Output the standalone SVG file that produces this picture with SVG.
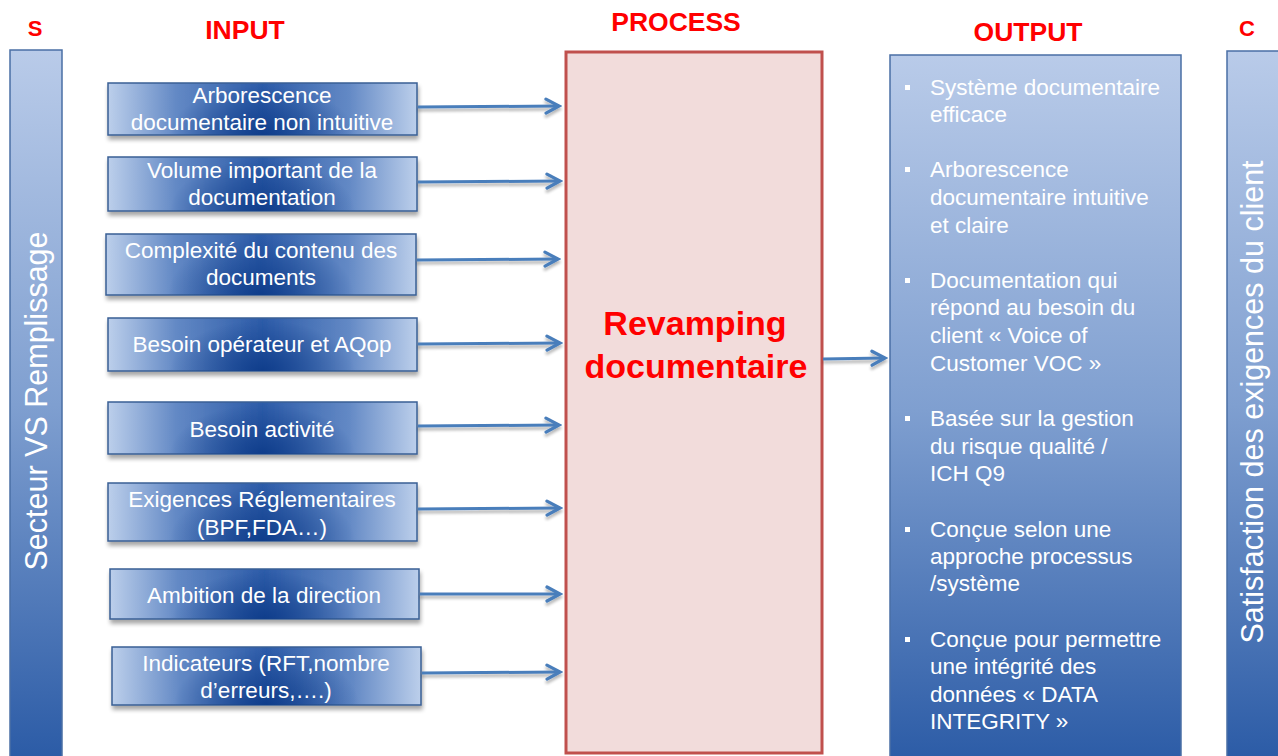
<svg xmlns="http://www.w3.org/2000/svg" width="1278" height="756" viewBox="0 0 1278 756">
<defs>
<linearGradient id="gv" x1="0" y1="0" x2="0" y2="1">
<stop offset="0" stop-color="#b9cbe9"/>
<stop offset="0.5" stop-color="#7f9fd0"/>
<stop offset="1" stop-color="#2b5ba6"/>
</linearGradient>
<linearGradient id="gh" x1="0" y1="0" x2="1" y2="0">
<stop offset="0" stop-color="#bccfeb"/>
<stop offset="0.22" stop-color="#6389c5"/>
<stop offset="0.5" stop-color="#2c5ba8"/>
<stop offset="0.78" stop-color="#6389c5"/>
<stop offset="1" stop-color="#bccfeb"/>
</linearGradient>
<radialGradient id="gd" cx="0.5" cy="1" r="0.3" gradientTransform="translate(0.5 1) scale(1 3.2) translate(-0.5 -1)">
<stop offset="0" stop-color="#0c3a88" stop-opacity="0.9"/>
<stop offset="1" stop-color="#0c3a88" stop-opacity="0"/>
</radialGradient>
<filter id="sh" x="-5%" y="-10%" width="110%" height="140%">
<feGaussianBlur in="SourceAlpha" stdDeviation="2"/>
<feOffset dx="1" dy="4" result="b"/>
<feComponentTransfer><feFuncA type="linear" slope="0.35"/></feComponentTransfer>
<feMerge><feMergeNode/><feMergeNode in="SourceGraphic"/></feMerge>
</filter>
<filter id="ash" x="-5%" y="-100%" width="110%" height="400%">
<feGaussianBlur in="SourceAlpha" stdDeviation="1.5"/>
<feOffset dx="0" dy="3"/>
<feComponentTransfer><feFuncA type="linear" slope="0.3"/></feComponentTransfer>
<feMerge><feMergeNode/><feMergeNode in="SourceGraphic"/></feMerge>
</filter>
<marker id="ah" viewBox="0 0 20 20" refX="17" refY="10" markerWidth="20" markerHeight="20" markerUnits="userSpaceOnUse" orient="auto">
<polyline points="4,3 17,10 4,17" fill="none" stroke="#4a7ebb" stroke-width="3.2" stroke-linejoin="miter" stroke-linecap="round"/>
</marker>
</defs>
<style>
.title{font-family:"Liberation Sans",Arial,sans-serif;font-weight:bold;fill:#ff0000;text-anchor:middle}
.box{fill:url(#gh);stroke:#3a5f95;stroke-width:1.5;filter:url(#sh)}
.dk{fill:url(#gd);stroke:none}
.bt{font-family:"Liberation Sans",Arial,sans-serif;font-size:22.5px;fill:#ffffff;text-anchor:middle}
.ot{font-family:"Liberation Sans",Arial,sans-serif;font-size:22.5px;fill:#ffffff}
.bar{fill:url(#gv);stroke:#4a6fa5;stroke-width:1.5}
.vt{font-family:"Liberation Sans",Arial,sans-serif;fill:#ffffff;text-anchor:middle}
.arr{stroke:#4a7ebb;stroke-width:3;fill:none;marker-end:url(#ah)}
</style>
<rect width="1278" height="756" fill="#ffffff"/>

<g id="titles">
<text class="title" x="35" y="36" font-size="22">S</text>
<text class="title" x="245" y="39" font-size="26.5">INPUT</text>
<text class="title" x="676" y="31" font-size="26.5">PROCESS</text>
<text class="title" x="1028" y="41" font-size="26.5">OUTPUT</text>
<text class="title" x="1247" y="36" font-size="22">C</text>
</g>

<g id="bar-s">
<rect class="bar" x="10" y="50" width="52" height="710"/>
<text class="vt" font-size="30.5" transform="translate(47 401) rotate(-90)">Secteur VS Remplissage</text>
</g>

<g id="bar-c">
<rect class="bar" x="1227" y="51" width="52" height="710"/>
<text class="vt" font-size="30.5" transform="translate(1263 402) rotate(-90)">Satisfaction des exigences du client</text>
</g>

<g id="in1"><rect class="box" x="108" y="83" width="309" height="52"/><rect class="dk" x="108" y="83" width="309" height="52"/>
<text class="bt" x="262" y="103">Arborescence</text><text class="bt" x="262" y="130">documentaire non intuitive</text></g>
<g id="in2"><rect class="box" x="108" y="157" width="309" height="54"/><rect class="dk" x="108" y="157" width="309" height="54"/>
<text class="bt" x="262" y="178">Volume important de la</text><text class="bt" x="262" y="205">documentation</text></g>
<g id="in3"><rect class="box" x="106" y="234" width="310" height="61"/><rect class="dk" x="106" y="234" width="310" height="61"/>
<text class="bt" x="261" y="258">Complexité du contenu des</text><text class="bt" x="261" y="285">documents</text></g>
<g id="in4"><rect class="box" x="108" y="318" width="309" height="53"/><rect class="dk" x="108" y="318" width="309" height="53"/>
<text class="bt" x="262" y="352">Besoin opérateur et AQop</text></g>
<g id="in5"><rect class="box" x="108" y="402" width="309" height="52"/><rect class="dk" x="108" y="402" width="309" height="52"/>
<text class="bt" x="262" y="437">Besoin activité</text></g>
<g id="in6"><rect class="box" x="108" y="483" width="309" height="58"/><rect class="dk" x="108" y="483" width="309" height="58"/>
<text class="bt" x="262" y="507">Exigences Réglementaires</text><text class="bt" x="262" y="535">(BPF,FDA…)</text></g>
<g id="in7"><rect class="box" x="110" y="569" width="309" height="50"/><rect class="dk" x="110" y="569" width="309" height="50"/>
<text class="bt" x="264" y="603">Ambition de la direction</text></g>
<g id="in8"><rect class="box" x="112" y="647" width="309" height="58"/><rect class="dk" x="112" y="647" width="309" height="58"/>
<text class="bt" x="266" y="671">Indicateurs (RFT,nombre</text><text class="bt" x="266" y="698">d’erreurs,….)</text></g>

<g id="process">
<rect x="566" y="52" width="256" height="701" fill="#f2dcdb" stroke="#c0504d" stroke-width="3"/>
<text class="title" x="695" y="335" font-size="34">Revamping</text>
<text class="title" x="696" y="378" font-size="34">documentaire</text>
</g>

<g id="output">
<rect x="890" y="55" width="291" height="710" fill="url(#gv)" stroke="#4a6fa5" stroke-width="1.5"/>
<g fill="#ffffff">
<rect x="905" y="85" width="5" height="5"/>
<rect x="905" y="167" width="5" height="5"/>
<rect x="905" y="278" width="5" height="5"/>
<rect x="905" y="416" width="5" height="5"/>
<rect x="905" y="527" width="5" height="5"/>
<rect x="905" y="637" width="5" height="5"/>
</g>
<text class="ot" x="930" y="95">Système documentaire</text>
<text class="ot" x="930" y="122">efficace</text>
<text class="ot" x="930" y="177">Arborescence</text>
<text class="ot" x="930" y="205">documentaire intuitive</text>
<text class="ot" x="930" y="233">et claire</text>
<text class="ot" x="930" y="288">Documentation qui</text>
<text class="ot" x="930" y="315">répond au besoin du</text>
<text class="ot" x="930" y="343">client « Voice of</text>
<text class="ot" x="930" y="371">Customer VOC »</text>
<text class="ot" x="930" y="426">Basée sur la gestion</text>
<text class="ot" x="930" y="454">du risque qualité /</text>
<text class="ot" x="930" y="481">ICH Q9</text>
<text class="ot" x="930" y="537">Conçue selon une</text>
<text class="ot" x="930" y="564">approche processus</text>
<text class="ot" x="930" y="591">/système</text>
<text class="ot" x="930" y="647">Conçue pour permettre</text>
<text class="ot" x="930" y="674">une intégrité des</text>
<text class="ot" x="930" y="702">données « DATA</text>
<text class="ot" x="930" y="729">INTEGRITY »</text>
</g>

<g id="connectors" filter="url(#ash)">
<line class="arr" x1="418" y1="107" x2="559" y2="106"/>
<line class="arr" x1="418" y1="182" x2="560" y2="181"/>
<line class="arr" x1="417" y1="260" x2="558" y2="259"/>
<line class="arr" x1="418" y1="344" x2="560" y2="343"/>
<line class="arr" x1="418" y1="426" x2="559" y2="425"/>
<line class="arr" x1="418" y1="509" x2="560" y2="508"/>
<line class="arr" x1="420" y1="594" x2="560" y2="594"/>
<line class="arr" x1="422" y1="673" x2="560" y2="672"/>
<line class="arr" x1="823" y1="359" x2="885" y2="358"/>
</g>
</svg>
